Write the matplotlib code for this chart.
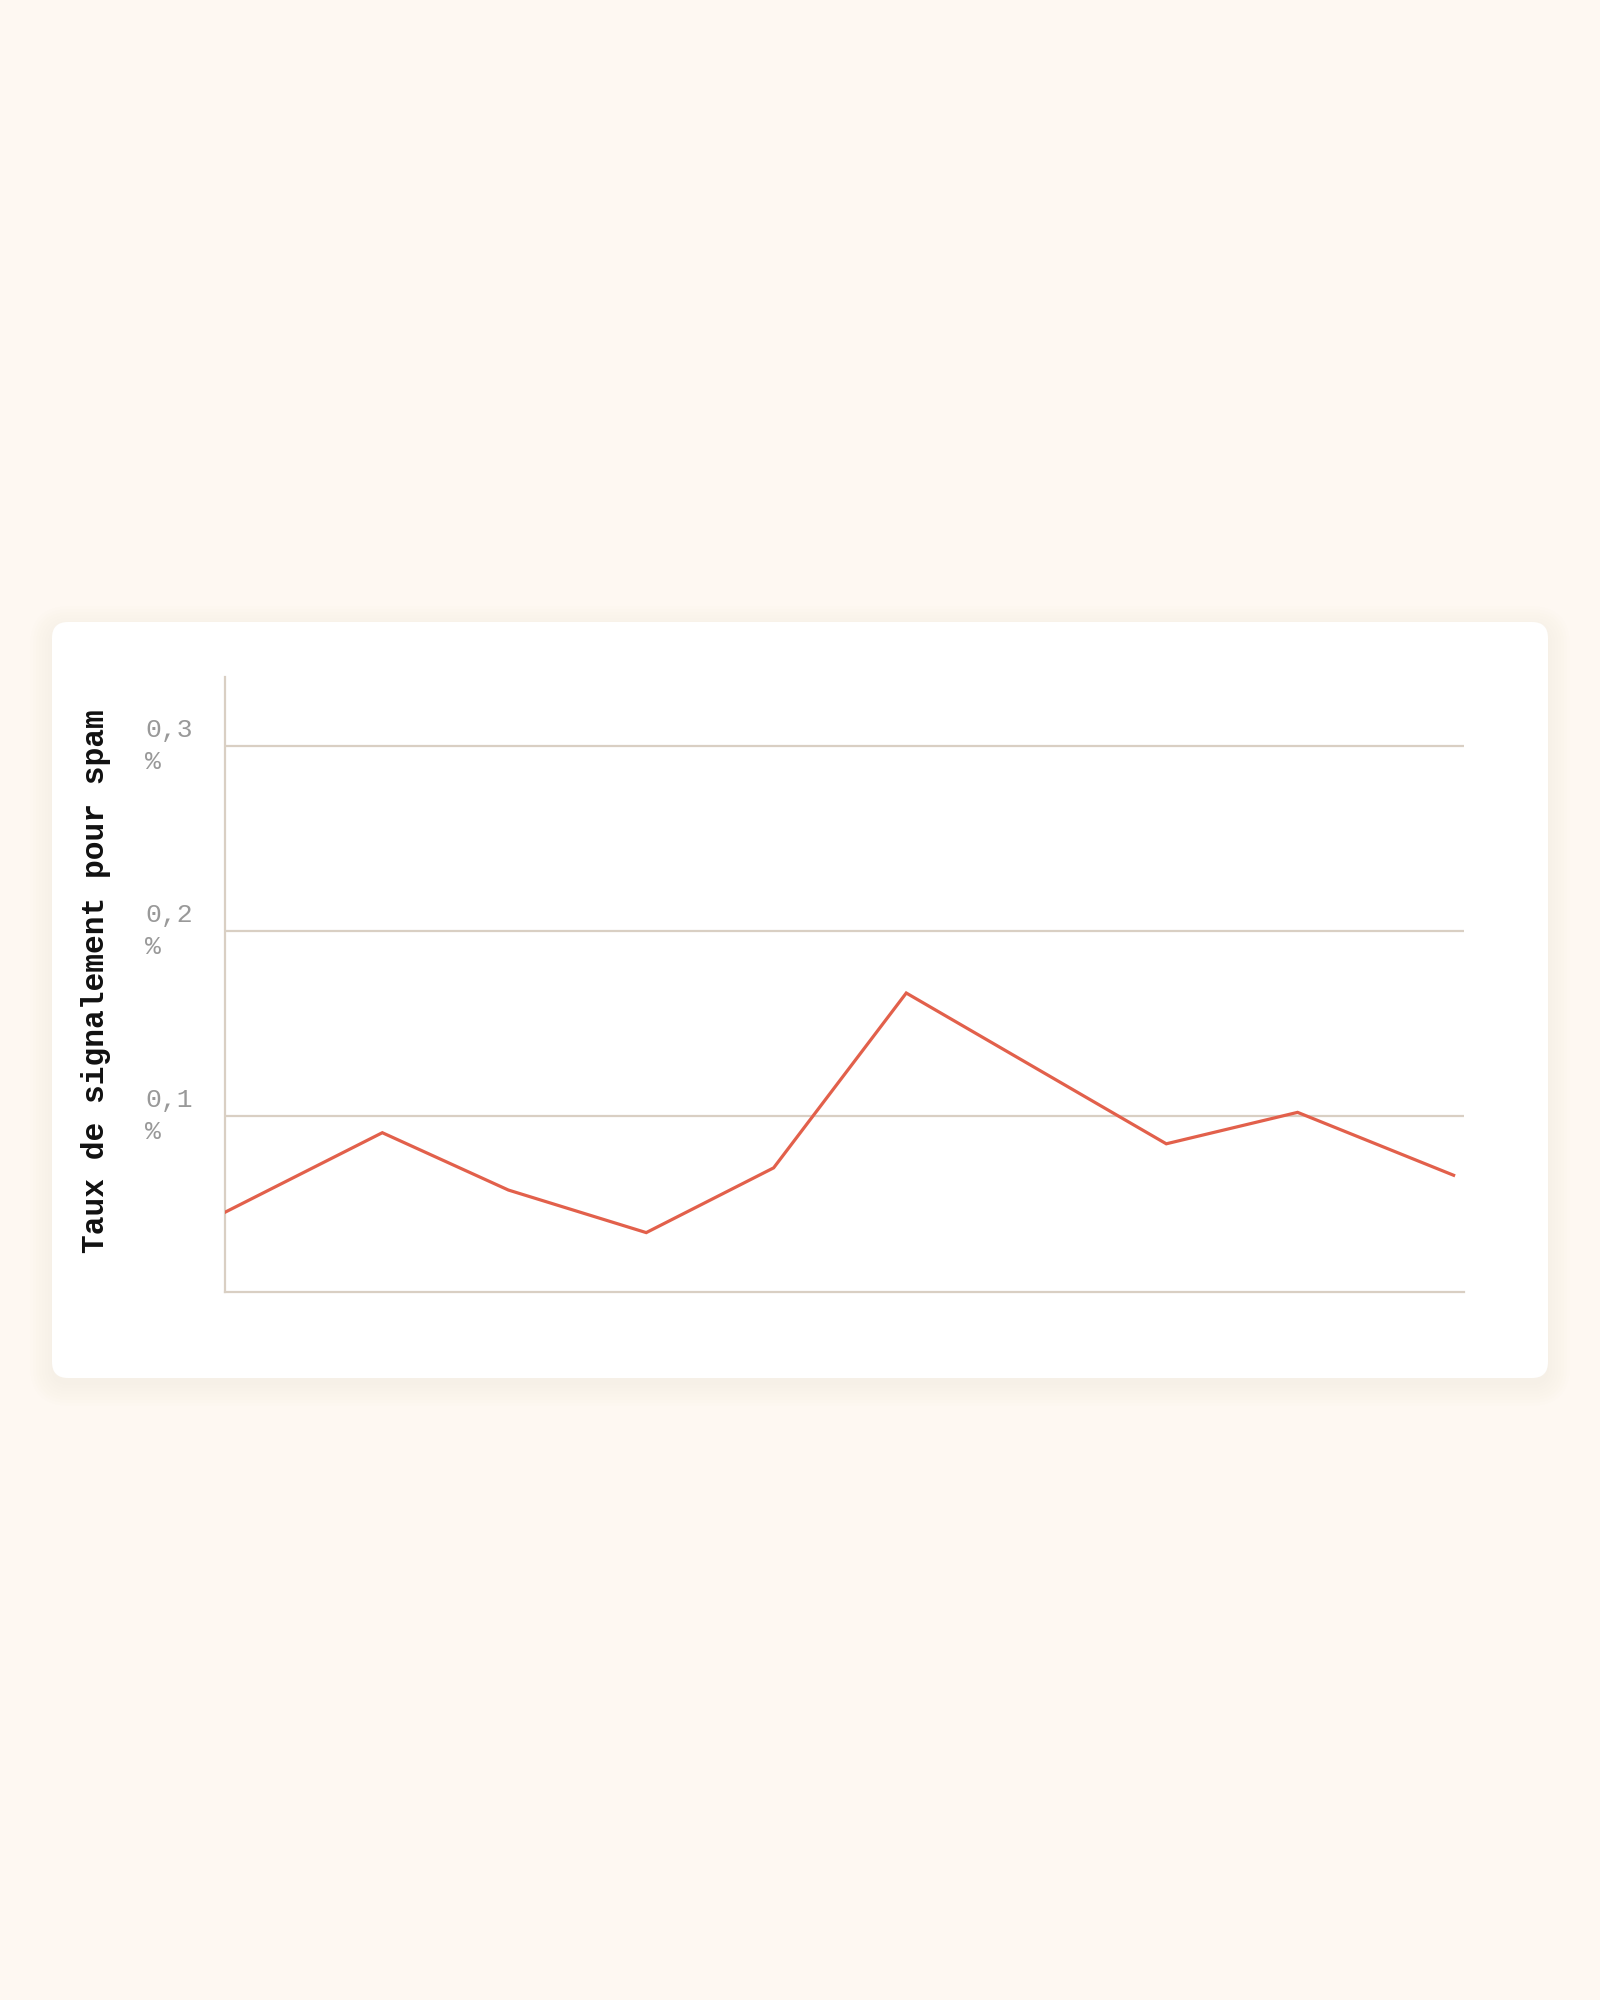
import matplotlib.pyplot as plt
from matplotlib.patches import FancyBboxPatch
from matplotlib.transforms import ScaledTranslation

# Données
semaines = [0, 1.21, 2.18, 3.24, 4.22, 5.24, 7.24, 8.25, 9.45]
taux_spam = [0.048, 0.091, 0.060, 0.037, 0.072, 0.1665, 0.085, 0.102, 0.068]
graduations = [0.1, 0.2, 0.3]
etiquettes = ["0,1\n%", "0,2\n%", "0,3\n%"]
titre_y = "Taux de signalement pour spam"

fond = "#FEF8F2"
couleur_grille = "#D9CFC3"
couleur_ligne = "#E2604B"

fig = plt.figure(figsize=(16, 20), dpi=100, facecolor=fond)

# Carte blanche avec ombre douce (coordonnées en pixels)
fond_ax = fig.add_axes([0, 0, 1, 1])
fond_ax.set_xlim(0, 1600)
fond_ax.set_ylim(2000, 0)
fond_ax.axis("off")
for i in range(8):
    e = 3 + i * 3
    ombre = FancyBboxPatch((52 - e + 2, 622 - e + 8), 1496 + 2 * e - 4, 756 + 2 * e - 4,
                           boxstyle=f"round,pad=0,rounding_size={16 + e}",
                           facecolor="#E8DFD3", edgecolor="none", alpha=0.04)
    fond_ax.add_patch(ombre)
carte = FancyBboxPatch((52, 622), 1496, 756, boxstyle="round,pad=0,rounding_size=16",
                       facecolor="white", edgecolor="none")
fond_ax.add_patch(carte)

# Graphique
ax = fig.add_axes([225 / 1600, 1 - 1292 / 2000, 1239 / 1600, 615 / 2000])
ax.set_facecolor("none")
ax.plot(semaines, taux_spam, color=couleur_ligne, lw=2.3, solid_joinstyle="miter", zorder=3)

ax.set_xlim(0, 9.53)
ax.set_ylim(0.0049, 0.3373)

ax.set_yticks(graduations)
ax.set_yticklabels(etiquettes)
ax.set_xticks([])
ax.tick_params(axis="y", length=0, pad=57.6, labelsize=19, labelcolor="#999999")
decalage = ScaledTranslation(0, 0.07, fig.dpi_scale_trans)
for lab in ax.get_yticklabels():
    lab.set_fontfamily("Liberation Mono")
    lab.set_horizontalalignment("left")
    lab.set_linespacing(1.45)
    lab.set_transform(lab.get_transform() + decalage)

ax.grid(axis="y", color=couleur_grille, lw=1.6)
for cote in ["top", "right"]:
    ax.spines[cote].set_visible(False)
for cote in ["left", "bottom"]:
    ax.spines[cote].set_color(couleur_grille)
    ax.spines[cote].set_linewidth(1.6)

ax.set_ylabel(titre_y, fontfamily="Liberation Mono", fontweight="bold", fontsize=22.5, color="#111111")
ax.yaxis.set_label_coords(-0.092, 0.505)

fig.savefig("out.png", dpi=100, facecolor=fond)
